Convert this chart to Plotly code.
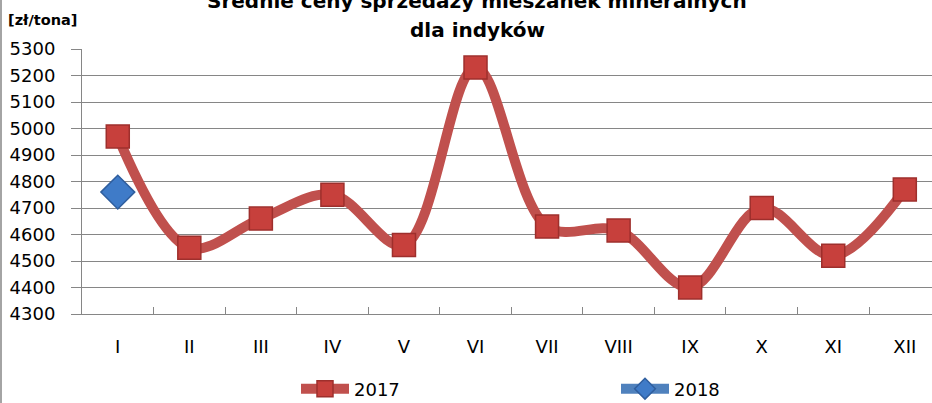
import plotly.graph_objects as go

months = ["I", "II", "III", "IV", "V", "VI", "VII", "VIII", "IX", "X", "XI", "XII"]
prices_2017 = [4970, 4550, 4660, 4750, 4560, 5230, 4630, 4615, 4400, 4700, 4520, 4770]
months_2018 = ["I"]
prices_2018 = [4760]
y_ticks = [4300, 4400, 4500, 4600, 4700, 4800, 4900, 5000, 5100, 5200, 5300]

RED = "#C0504D"
BLUE = "#4F81BD"
FONT = "DejaVu Sans"

fig = go.Figure()
fig.add_trace(go.Scatter(
    x=months, y=prices_2017, name="2017", mode="lines+markers",
    line=dict(color=RED, width=10, shape="spline", smoothing=1.0),
    marker=dict(symbol="square", size=23, color="#C7403C",
                line=dict(color="#9E2F2C", width=1.5)),
))
fig.add_trace(go.Scatter(
    x=months_2018, y=prices_2018, name="2018", mode="lines+markers",
    line=dict(color=BLUE, width=10),
    marker=dict(symbol="diamond", size=26, color="#3F7BC8",
                line=dict(color="#2F5E9E", width=1.5)),
))

W, H = 932, 403
L, R, T, B = 82, 0, 49, 89
ph = H - T - B
pw = W - L - R

def py(pix):
    return 1 + (T - pix) / ph

def px(pix):
    return (pix - L) / pw

fig.update_layout(
    width=W, height=H,
    margin=dict(l=L, r=R, t=T, b=B, autoexpand=False),
    paper_bgcolor="white", plot_bgcolor="white",
    font=dict(family=FONT, size=18, color="black"),
    showlegend=True,
    legend=dict(orientation="h", x=px(296), y=py(389), xanchor="left", yanchor="middle",
                entrywidth=257, entrywidthmode="pixels", itemwidth=48,
                font=dict(family=FONT, size=18), bgcolor="rgba(0,0,0,0)"),
    xaxis=dict(
        type="category", range=[-0.5, 11.38],
        showgrid=False, showline=True, linecolor="#868686", linewidth=1,
        ticks="inside", tickson="boundaries", ticklen=7, tickcolor="#868686",
        ticklabelstandoff=16,
        tickfont=dict(family=FONT, size=18), fixedrange=True, automargin=False,
    ),
    yaxis=dict(
        range=[4300, 5300], tickvals=y_ticks,
        showgrid=True, gridcolor="#868686", gridwidth=1,
        showline=True, linecolor="#868686", linewidth=1,
        ticks="outside", ticklen=10, tickcolor="#868686",
        ticklabelstandoff=12,
        tickfont=dict(family=FONT, size=18), zeroline=False, automargin=False,
    ),
    annotations=[
        dict(text="<b>Średnie ceny sprzedaży mieszanek mineralnych</b>", xref="paper", yref="paper",
             x=px(477), y=py(1), xanchor="center", yanchor="middle", showarrow=False,
             font=dict(family=FONT, size=20)),
        dict(text="<b>dla indyków</b>", xref="paper", yref="paper",
             x=px(477), y=py(30), xanchor="center", yanchor="middle", showarrow=False,
             font=dict(family=FONT, size=20)),
        dict(text="<b>[zł/tona]</b>", xref="paper", yref="paper",
             x=px(6), y=py(20), xanchor="left", yanchor="middle", showarrow=False,
             font=dict(family=FONT, size=14.5)),
    ],
    shapes=[
        dict(type="line", xref="paper", yref="paper", x0=px(1), x1=px(1), y0=py(H), y1=py(0),
             line=dict(color="#868686", width=1.5)),
    ],
)

fig.write_html("out.html", config={"displayModeBar": False},
               post_script="document.body.style.margin='0';document.body.style.overflow='hidden';")
